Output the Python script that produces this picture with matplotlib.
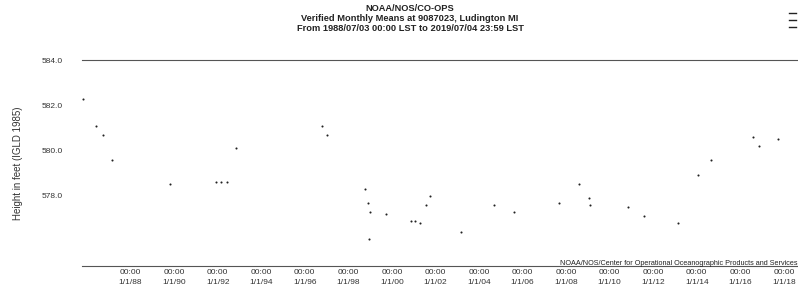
import matplotlib.pyplot as plt
from matplotlib.lines import Line2D

plt.rcParams['font.family'] = ['Liberation Sans', 'DejaVu Sans']

TITLE = ["NOAA/NOS/CO-OPS",
         "Verified Monthly Means at 9087023, Ludington MI",
         "From 1988/07/03 00:00 LST to 2019/07/04 23:59 LST"]
Y_LABEL = "Height in feet (IGLD 1985)"
CREDIT = "NOAA/NOS/Center for Operational Oceanographic Products and Services"

# monthly means that survived in the scan (decimal year, feet)
years = [1985.80, 1986.40, 1986.72, 1987.13, 1989.82, 1991.92, 1992.15, 1992.42,
         1992.83, 1996.81, 1997.03, 1998.77, 1998.91, 1998.96, 1999.00, 1999.73,
         2000.87, 2001.06, 2001.28, 2001.56, 2001.74, 2003.16, 2004.71, 2005.62,
         2007.68, 2008.59, 2009.05, 2009.09, 2010.83, 2011.56, 2013.16, 2014.07,
         2014.67, 2016.58, 2016.86, 2017.72]
levels = [582.3, 581.1, 580.7, 579.6, 578.5, 578.6, 578.6, 578.6,
          580.1, 581.1, 580.7, 578.3, 577.7, 576.1, 577.3, 577.2,
          576.9, 576.9, 576.8, 577.6, 578.0, 576.4, 577.6, 577.3,
          577.7, 578.5, 577.9, 577.6, 577.5, 577.1, 576.8, 578.9,
          579.6, 580.6, 580.2, 580.5]

tick_years = list(range(1988, 2019, 2))
tick_labels = ["00:00\n1/1/%02d" % (y % 100) for y in tick_years]
y_ticks = [578.0, 580.0, 582.0, 584.0]

fig = plt.figure(figsize=(7.98, 2.89), dpi=100)
ax = fig.add_axes([0.103, 0.080, 0.897, 0.712])

ax.plot(years, levels, linestyle='none', marker='o', markersize=1.5,
        color='#222222', markeredgewidth=0)

ax.set_xlim(1985.78, 2018.65)
ax.set_ylim(574.9, 584.0)
ax.set_xticks(tick_years)
ax.set_xticklabels(tick_labels, fontsize=6, color='#333333', linespacing=1.5)
ax.set_yticks(y_ticks)
ax.set_yticklabels(["%.1f" % v for v in y_ticks], fontsize=6, color='#333333')
ax.tick_params(axis='both', length=0)
ax.tick_params(axis='y', pad=14)
ax.tick_params(axis='x', pad=2.5)

for s in ['left', 'right']:
    ax.spines[s].set_visible(False)
for s in ['top', 'bottom']:
    ax.spines[s].set_color('#555555')
    ax.spines[s].set_linewidth(0.8)

ax.set_ylabel(Y_LABEL, fontsize=7, color='#333333')
ax.yaxis.set_label_coords(-0.083, 0.50)

ax.text(1.0, -0.005, CREDIT, transform=ax.transAxes, ha='right', va='bottom',
        fontsize=5.2, color='#222222')

for i, line in enumerate(TITLE):
    fig.text(0.514, 0.987 - i * 0.035, line, ha='center', va='top',
             fontsize=6.7, fontweight='bold', color='#222222')

# menu icon top right
for yy in [0.955, 0.930, 0.905]:
    fig.add_artist(Line2D([0.989, 0.997], [yy, yy], color='#222222', linewidth=1.0))

fig.savefig('out.png', dpi=100)
